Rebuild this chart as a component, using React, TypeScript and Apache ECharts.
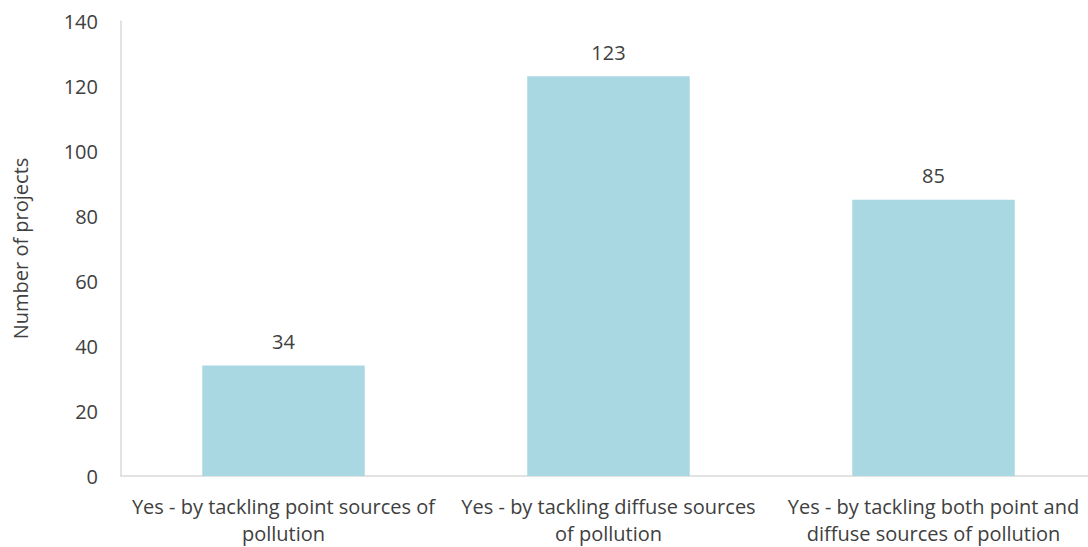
import React, { useEffect, useRef } from "react";
import * as echarts from "echarts";

const categories = [
  "Yes - by tackling point sources of\npollution",
  "Yes - by tackling diffuse sources\nof pollution",
  "Yes - by tackling both point and\ndiffuse sources of pollution",
];
const values = [34, 123, 85];
const yTicks = { min: 0, max: 140, interval: 20 };

export default function App() {
  const ref = useRef<HTMLDivElement>(null);
  useEffect(() => {
    const chart = echarts.init(ref.current!, null, { renderer: "svg" });
    const font = "'Open Sans', 'Noto Sans', sans-serif";
    chart.setOption({
      animation: false,
      grid: { left: 121, right: 0, top: 21, bottom: 71, outerBoundsMode: "none", containLabel: false },
      xAxis: {
        type: "category",
        data: categories,
        axisLine: { lineStyle: { color: "#d9d9d9", width: 1.5 } },
        axisTick: { show: false },
        axisLabel: {
          color: "#404040",
          fontSize: 20,
          fontFamily: font,
          lineHeight: 27,
          margin: 17,
          interval: 0,
        },
      },
      yAxis: {
        type: "value",
        min: yTicks.min,
        max: yTicks.max,
        interval: yTicks.interval,
        name: "Number of projects",
        nameLocation: "middle",
        nameGap: 91,
        nameTextStyle: { color: "#404040", fontSize: 20, fontFamily: font },
        axisLine: { show: true, lineStyle: { color: "#d9d9d9", width: 1.5 } },
        axisTick: { show: false },
        splitLine: { show: false },
        axisLabel: { color: "#404040", fontSize: 20, fontFamily: font, margin: 23 },
      },
      series: [
        {
          type: "bar",
          data: values,
          barWidth: "50%",
          itemStyle: { color: "#a9d8e3" },
          label: {
            show: true,
            position: "top",
            distance: 14,
            color: "#404040",
            fontSize: 20,
            fontFamily: font,
          },
        },
      ],
    });
    return () => chart.dispose();
  }, []);
  return (
    <div style={{ width: 1088, height: 547, position: "absolute", left: 0, top: 0, overflow: "hidden" }}>
      <div ref={ref} style={{ width: 1096, height: 547 }} />
    </div>
  );
}
